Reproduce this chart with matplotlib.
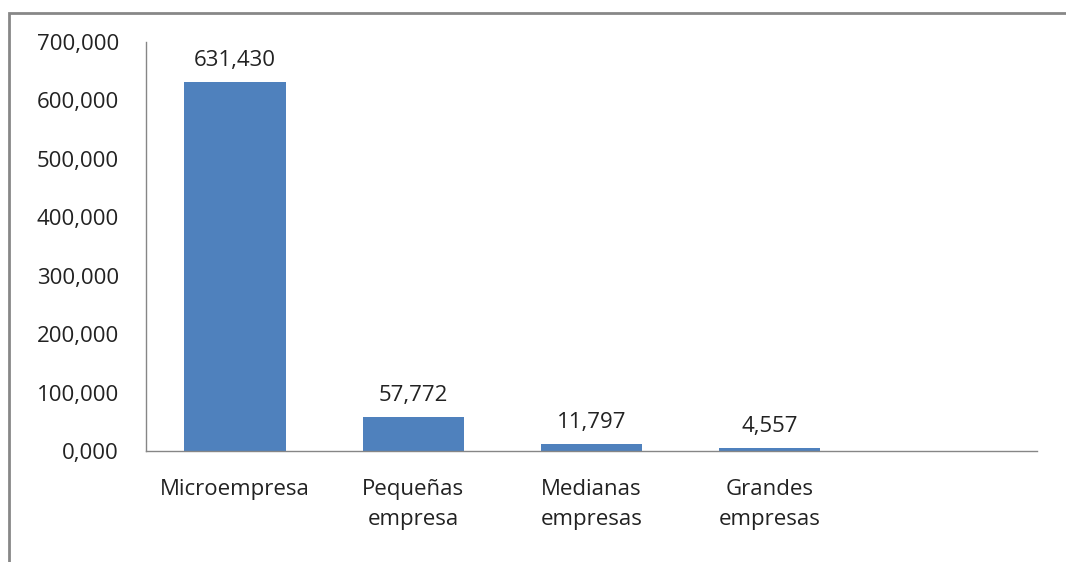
import matplotlib
matplotlib.use('Agg')
import matplotlib.pyplot as plt
import matplotlib.ticker as mtick
from matplotlib.patches import Rectangle

categories = ['Microempresa', 'Pequeñas\nempresa', 'Medianas\nempresas', 'Grandes\nempresas', '']
values = [631430, 57772, 11797, 4557, 0]
labels = ['631,430', '57,772', '11,797', '4,557', '']

plt.rcParams['font.family'] = ['Open Sans', 'DejaVu Sans']
text_color = '#222222'
axis_color = '#868686'
bar_color = '#4F81BD'
fs = 16

fig = plt.figure(figsize=(10.66, 5.62), dpi=100)
ax = fig.add_axes([146 / 1066, 1 - 451 / 562, (1037 - 146) / 1066, (451 - 42) / 562])

x = range(len(categories))
bars = ax.bar(x, values, width=0.57, color=bar_color)
for b, lab in zip(bars, labels):
    if lab:
        ax.annotate(lab, (b.get_x() + b.get_width() / 2, b.get_height()),
                    xytext=(0, 8), textcoords='offset points',
                    ha='center', va='bottom', fontsize=fs, color=text_color)

ax.set_xlim(-0.5, len(categories) - 0.5)
ax.set_ylim(0, 700000)
ax.set_yticks(range(0, 700001, 100000))
ax.yaxis.set_major_formatter(mtick.FuncFormatter(lambda v, p: '0,000' if v == 0 else '{:,.0f}'.format(v)))
ax.set_xticks(list(x))
ax.set_xticklabels(categories, fontsize=fs, color=text_color, linespacing=1.6)
ax.tick_params(axis='y', length=0, pad=19.5, labelsize=fs, labelcolor=text_color)
ax.tick_params(axis='x', length=0, pad=20)
for s in ['top', 'right']:
    ax.spines[s].set_visible(False)
for s in ['left', 'bottom']:
    ax.spines[s].set_color(axis_color)
    ax.spines[s].set_linewidth(1.0)

# chart frame (only top/left edges visible in the crop)
fig.patches.append(Rectangle((9 / 1066, -0.1), 1.2, 1 - 13 / 562 + 0.1,
                             transform=fig.transFigure, fill=False,
                             edgecolor='#878787', linewidth=2))

fig.savefig('out.png', dpi=100)
